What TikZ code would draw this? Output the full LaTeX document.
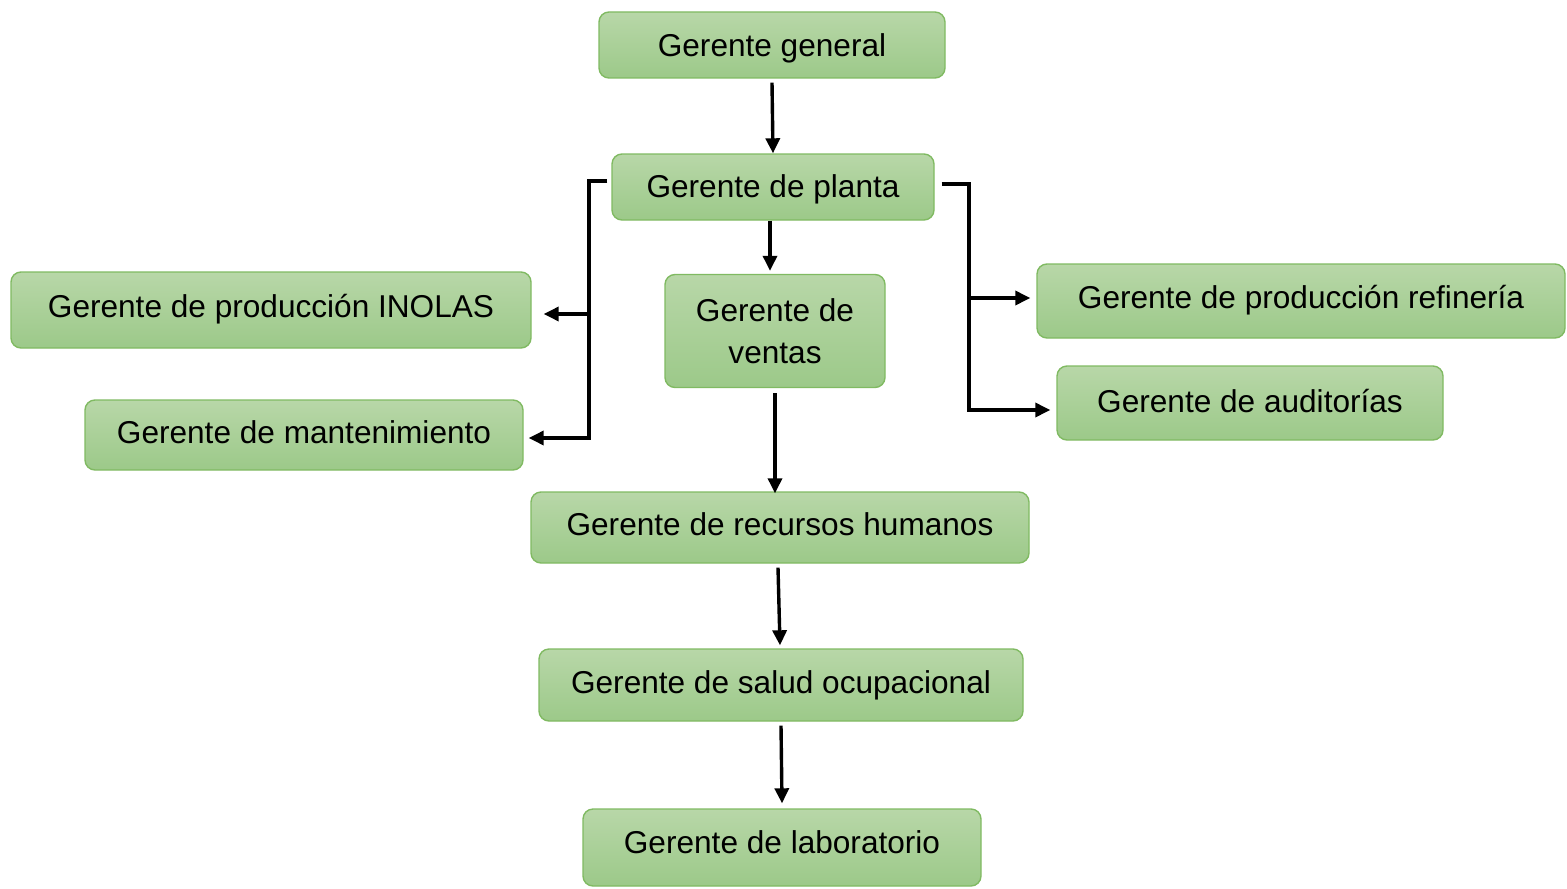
\documentclass[tikz,border=0pt]{standalone}
\usepackage{fontspec}
\setmainfont{Liberation Sans}
\usetikzlibrary{arrows.meta}
\definecolor{boxtop}{RGB}{184,215,168}
\definecolor{boxbot}{RGB}{156,201,137}
\definecolor{boxline}{RGB}{128,186,98}
\tikzset{
  box/.style={draw=boxline, line width=0.7pt, rounded corners=5pt,
    top color=boxtop, bottom color=boxbot, align=center,
    font=\fontsize{15.8}{21}\selectfont, inner sep=0pt},
  conn/.style={line width=1.7pt, -{Triangle[length=7.5pt,width=7pt]}},
  seg/.style={line width=1.7pt}
}
\begin{document}
\begin{tikzpicture}[x=0.5pt,y=-0.5pt]
\useasboundingbox (0,0) rectangle (1567,888);
\node[box, minimum width=173pt, text height=22.5pt, text depth=10.5pt] (gg) at (772,45) {Gerente general};
\node[box, minimum width=161pt, text height=21.5pt, text depth=11.5pt] (gp) at (773,187) {Gerente de planta};
\node[box, minimum width=260pt, text height=22.5pt, text depth=15.5pt] (inol) at (271,310) {Gerente de producción INOLAS};
\node[box, minimum width=219pt, text height=21.5pt, text depth=13.5pt] (mant) at (304,435) {Gerente de mantenimiento};
\node[box, minimum width=110pt, minimum height=56.5pt] (vent) at (775,331) {Gerente de\\ventas};
\node[box, minimum width=264pt, text height=22pt, text depth=15pt] (refi) at (1301,301) {Gerente de producción refinería};
\node[box, minimum width=193pt, text height=23pt, text depth=14pt] (audi) at (1250,403) {Gerente de auditorías};
\node[box, minimum width=249pt, text height=21.5pt, text depth=14pt] (rrhh) at (780,527.5) {Gerente de recursos humanos};
\node[box, minimum width=242pt, text height=22pt, text depth=14pt] (salud) at (781,685) {Gerente de salud ocupacional};
\node[box, minimum width=199pt, text height=22pt, text depth=16.5pt] (lab) at (782,847.5) {Gerente de laboratorio};

\coordinate (lj) at (589,314);
\coordinate (rj) at (969,298);

\draw[conn] ([yshift=-2pt]gg.south) -- (gp.north);
\draw[conn] (gp.south -| 770,0) -- ([yshift=1.5pt]vent.north -| 770,0);
\draw[conn] ([yshift=-2.5pt]vent.south) -- ([yshift=-1pt]rrhh.north -| vent.south);
\draw[conn] ([yshift=-2pt]rrhh.south -| 778,0) -- ([yshift=1.5pt]salud.north -| 780,0);
\draw[conn] ([yshift=-2pt]salud.south) -- ([yshift=2.5pt]lab.north);

\draw[seg] ([xshift=-2pt]gp.west |- 0,181) -- (589,181) -- (lj);
\draw[conn] (lj) -- ([xshift=6pt]inol.east |- lj);
\draw[conn] (lj) -- (589,438) -- ([xshift=2.5pt]mant.east |- 0,438);

\draw[seg] ([xshift=3.5pt]gp.east |- 0,184) -- (969,184) -- (rj);
\draw[conn] (rj) -- ([xshift=-3pt]refi.west |- rj);
\draw[conn] (rj) -- (969,410) -- ([xshift=-3pt]audi.west |- 0,410);
\end{tikzpicture}
\end{document}
